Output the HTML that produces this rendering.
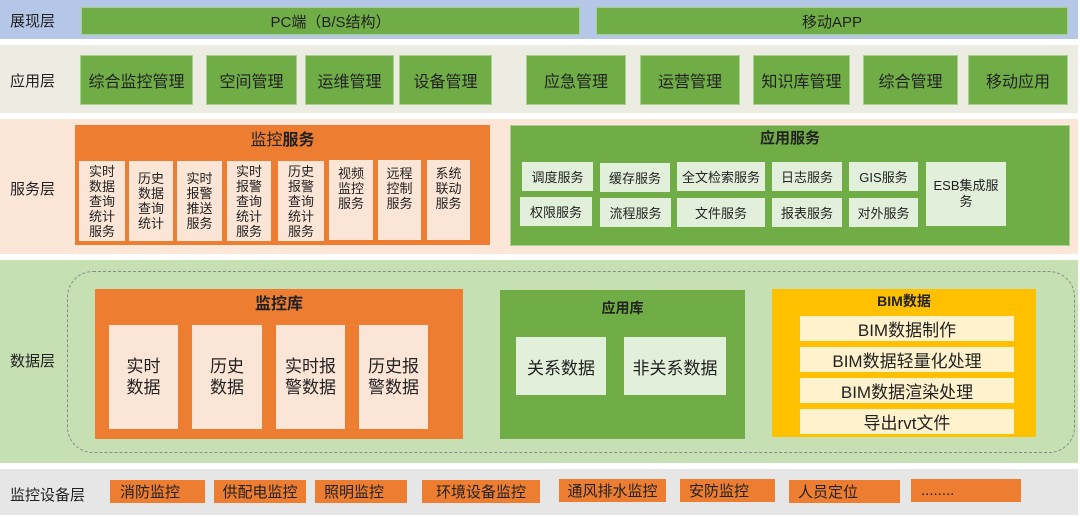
<!DOCTYPE html>
<html><head><meta charset="utf-8"><style>
*{margin:0;padding:0;box-sizing:border-box}
body{width:1080px;height:517px;background:#fff;position:relative;overflow:hidden;font-family:"Liberation Sans","Noto Sans CJK SC",sans-serif;color:#222}
.a{position:absolute;display:flex;align-items:center;justify-content:center;text-align:center}
.lbl{position:absolute;left:10px;font-size:15px}
.g{background:#70ad47;border:1px solid #a9d18e}
.o{background:#ed7d31}
.lo{background:#fbe5d6}
.lg{background:#e2efda}
.ly{background:#fff2cc}
</style></head><body>
<div class="a" style="left:0;top:0;width:1078px;height:39px;background:#b4c7e7"></div>
<div class="a" style="left:0;top:45px;width:1078px;height:68px;background:#edece2"></div>
<div class="a" style="left:0;top:119px;width:1078px;height:135px;background:#fbe6d8"></div>
<div class="a" style="left:0;top:260px;width:1078px;height:203px;background:#c6e0b4"></div>
<div class="a" style="left:0;top:469px;width:1078px;height:46px;background:#e6e6e6"></div>

<div class="lbl" style="top:10px">展现层</div>
<div class="lbl" style="top:70px">应用层</div>
<div class="lbl" style="top:178px">服务层</div>
<div class="lbl" style="top:350px">数据层</div>
<div class="lbl" style="top:484px">监控设备层</div>

<div class="a g" style="left:81px;top:7px;width:499px;height:28px;font-size:15px">PC端（B/S结构）</div>
<div class="a g" style="left:596px;top:7px;width:472px;height:28px;font-size:15px">移动APP</div>

<div class="a g" style="left:80px;top:55px;width:113px;height:50px;font-size:16px">综合监控管理</div>
<div class="a g" style="left:206px;top:55px;width:91px;height:50px;font-size:16px">空间管理</div>
<div class="a g" style="left:305px;top:55px;width:89px;height:50px;font-size:16px">运维管理</div>
<div class="a g" style="left:399px;top:55px;width:93px;height:50px;font-size:16px">设备管理</div>
<div class="a g" style="left:526px;top:55px;width:100px;height:50px;font-size:16px">应急管理</div>
<div class="a g" style="left:640px;top:55px;width:100px;height:50px;font-size:16px">运营管理</div>
<div class="a g" style="left:753px;top:55px;width:97px;height:50px;font-size:16px">知识库管理</div>
<div class="a g" style="left:863px;top:55px;width:95px;height:50px;font-size:16px">综合管理</div>
<div class="a g" style="left:968px;top:55px;width:100px;height:50px;font-size:16px">移动应用</div>

<div class="a o" style="left:75px;top:125px;width:415px;height:120px"></div>
<div class="a" style="left:75px;top:128px;width:415px;height:20px;font-size:16px">监控<b>服务</b></div>
<div class="a lo" style="left:79px;top:161px;width:46px;height:80px;font-size:13px;line-height:15px">实时<br>数据<br>查询<br>统计<br>服务</div>
<div class="a lo" style="left:129px;top:161px;width:44px;height:80px;font-size:13px;line-height:15px">历史<br>数据<br>查询<br>统计</div>
<div class="a lo" style="left:177px;top:161px;width:45px;height:80px;font-size:13px;line-height:15px">实时<br>报警<br>推送<br>服务</div>
<div class="a lo" style="left:227px;top:161px;width:44px;height:80px;font-size:13px;line-height:15px">实时<br>报警<br>查询<br>统计<br>服务</div>
<div class="a lo" style="left:278px;top:161px;width:46px;height:80px;font-size:13px;line-height:15px">历史<br>报警<br>查询<br>统计<br>服务</div>
<div class="a lo" style="left:329px;top:160px;width:44px;height:80px;font-size:13px;line-height:15px;align-items:flex-start;padding-top:6px">视频<br>监控<br>服务</div>
<div class="a lo" style="left:378px;top:160px;width:43px;height:80px;font-size:13px;line-height:15px;align-items:flex-start;padding-top:6px">远程<br>控制<br>服务</div>
<div class="a lo" style="left:427px;top:160px;width:43px;height:80px;font-size:13px;line-height:15px;align-items:flex-start;padding-top:6px">系统<br>联动<br>服务</div>

<div class="a g" style="left:510px;top:125px;width:560px;height:121px"></div>
<div class="a" style="left:510px;top:127px;width:560px;height:20px;font-size:15px;font-weight:bold">应用服务</div>
<div class="a lg" style="left:522px;top:162px;width:71px;height:29px;font-size:13px">调度服务</div>
<div class="a lg" style="left:600px;top:163px;width:70px;height:29px;font-size:13px">缓存服务</div>
<div class="a lg" style="left:677px;top:162px;width:88px;height:29px;font-size:13px">全文检索服务</div>
<div class="a lg" style="left:772px;top:162px;width:70px;height:29px;font-size:13px">日志服务</div>
<div class="a lg" style="left:849px;top:162px;width:69px;height:29px;font-size:13px">GIS服务</div>
<div class="a lg" style="left:926px;top:162px;width:80px;height:64px;font-size:13px;line-height:16px">ESB集成服<br>务</div>
<div class="a lg" style="left:520px;top:197px;width:72px;height:29px;font-size:13px">权限服务</div>
<div class="a lg" style="left:600px;top:198px;width:71px;height:29px;font-size:13px">流程服务</div>
<div class="a lg" style="left:677px;top:198px;width:88px;height:29px;font-size:13px">文件服务</div>
<div class="a lg" style="left:772px;top:198px;width:70px;height:29px;font-size:13px">报表服务</div>
<div class="a lg" style="left:849px;top:198px;width:69px;height:29px;font-size:13px">对外服务</div>

<div style="position:absolute;left:67px;top:271px;width:1008px;height:182px;border:1.5px dashed #8a8a8a;border-radius:26px"></div>

<div class="a o" style="left:95px;top:289px;width:368px;height:150px"></div>
<div class="a" style="left:95px;top:291px;width:368px;height:22px;font-size:16px;font-weight:bold">监控库</div>
<div class="a lo" style="left:109px;top:325px;width:69px;height:104px;font-size:17px;line-height:21px">实时<br>数据</div>
<div class="a lo" style="left:192px;top:325px;width:70px;height:104px;font-size:17px;line-height:21px">历史<br>数据</div>
<div class="a lo" style="left:276px;top:325px;width:69px;height:104px;font-size:17px;line-height:21px">实时报<br>警数据</div>
<div class="a lo" style="left:359px;top:325px;width:69px;height:104px;font-size:17px;line-height:21px">历史报<br>警数据</div>

<div class="a" style="left:500px;top:290px;width:245px;height:149px;background:#70ad47"></div>
<div class="a" style="left:500px;top:298px;width:245px;height:20px;font-size:14px;font-weight:bold">应用库</div>
<div class="a lg" style="left:516px;top:337px;width:90px;height:58px;font-size:17px">关系数据</div>
<div class="a lg" style="left:624px;top:337px;width:102px;height:58px;font-size:17px">非关系数据</div>

<div class="a" style="left:772px;top:289px;width:264px;height:148px;background:#ffc000"></div>
<div class="a" style="left:772px;top:291px;width:264px;height:20px;font-size:14px;font-weight:bold">BIM数据</div>
<div class="a ly" style="left:800px;top:316px;width:214px;height:25px;font-size:17px">BIM数据制作</div>
<div class="a ly" style="left:800px;top:347px;width:214px;height:25px;font-size:17px">BIM数据轻量化处理</div>
<div class="a ly" style="left:800px;top:378px;width:214px;height:25px;font-size:17px">BIM数据渲染处理</div>
<div class="a ly" style="left:800px;top:409px;width:214px;height:25px;font-size:17px">导出rvt文件</div>

<div class="a o" style="left:110px;top:480px;width:95px;height:23px;font-size:15px;justify-content:flex-start;padding-left:10px">消防监控</div>
<div class="a o" style="left:214px;top:480px;width:92px;height:23px;font-size:15px">供配电监控</div>
<div class="a o" style="left:315px;top:480px;width:92px;height:23px;font-size:15px;justify-content:flex-start;padding-left:9px">照明监控</div>
<div class="a o" style="left:422px;top:480px;width:118px;height:23px;font-size:15px">环境设备监控</div>
<div class="a o" style="left:559px;top:479px;width:107px;height:23px;font-size:15px">通风排水监控</div>
<div class="a o" style="left:680px;top:479px;width:95px;height:23px;font-size:15px;justify-content:flex-start;padding-left:9px">安防监控</div>
<div class="a o" style="left:789px;top:480px;width:111px;height:23px;font-size:15px;justify-content:flex-start;padding-left:9px">人员定位</div>
<div class="a o" style="left:911px;top:479px;width:110px;height:23px;font-size:15px;justify-content:flex-start;padding-left:10px">........</div>
</body></html>
